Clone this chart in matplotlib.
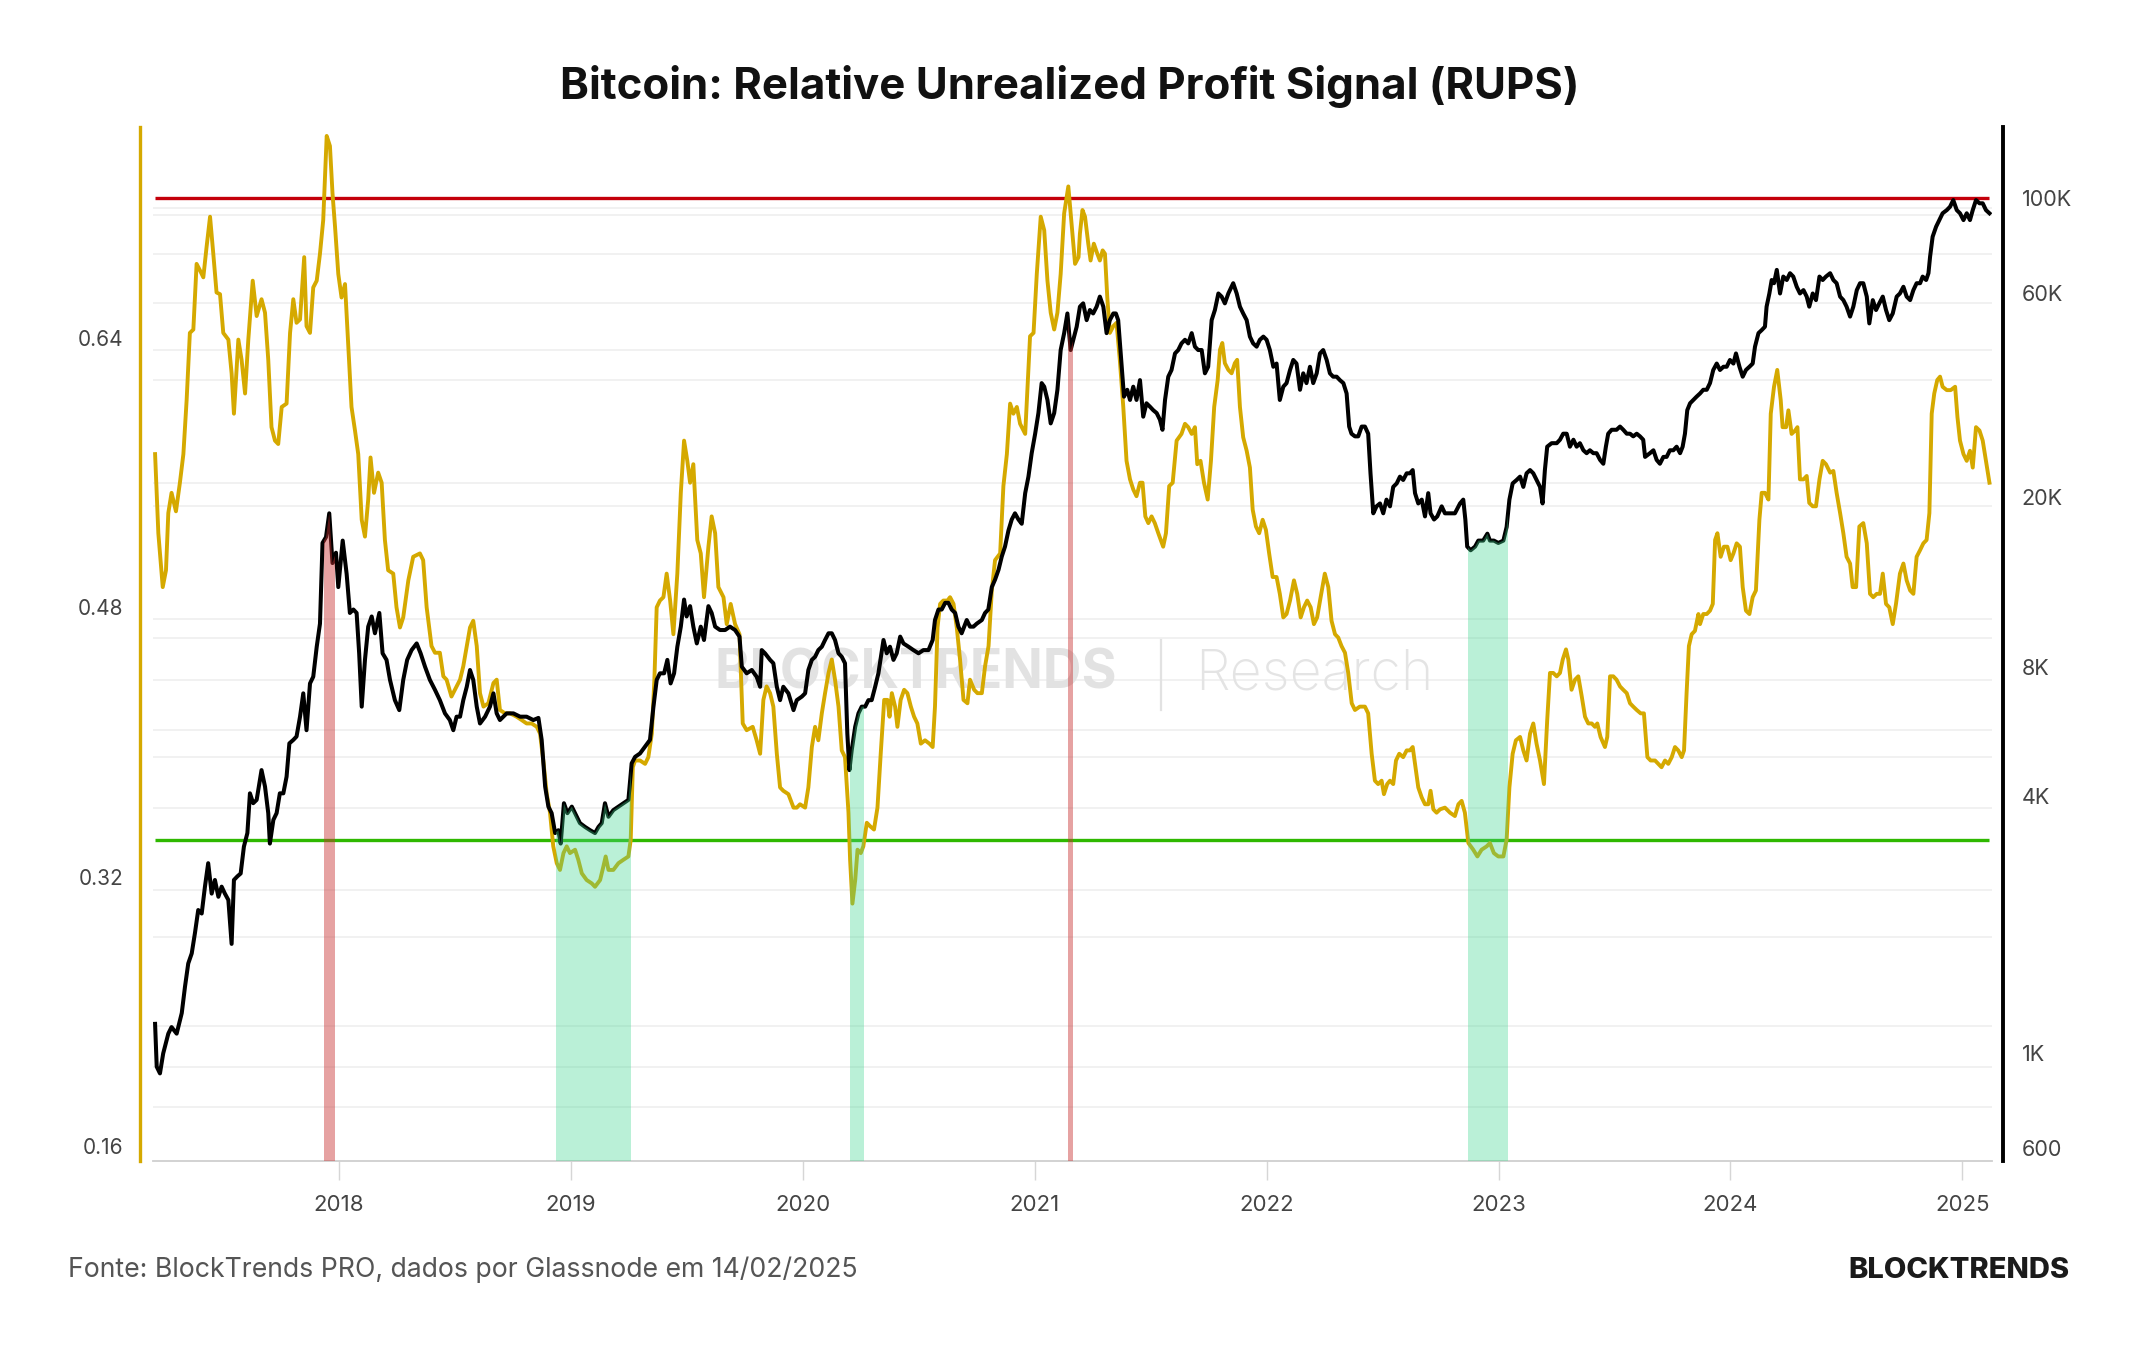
import numpy as np
import matplotlib
matplotlib.use("Agg")
import matplotlib.pyplot as plt
from matplotlib.path import Path
from matplotlib.lines import Line2D
from matplotlib.ticker import FixedLocator, FixedFormatter, NullLocator

plt.rcParams['font.family'] = ['Inter', 'DejaVu Sans']

# ---------------- data (decimal year, value) ----------------
rups_points = [
    (2017.207, 0.571), (2017.221, 0.524), (2017.240, 0.492), (2017.254, 0.502), (2017.264, 0.536),
    (2017.278, 0.548), (2017.297, 0.537), (2017.314, 0.554), (2017.329, 0.571), (2017.343, 0.603),
    (2017.357, 0.643), (2017.372, 0.645), (2017.386, 0.684), (2017.401, 0.680), (2017.415, 0.676),
    (2017.429, 0.694), (2017.444, 0.712), (2017.458, 0.690), (2017.472, 0.667), (2017.487, 0.666),
    (2017.501, 0.643), (2017.523, 0.639), (2017.537, 0.619), (2017.547, 0.595), (2017.566, 0.639),
    (2017.580, 0.627), (2017.595, 0.607), (2017.609, 0.639), (2017.628, 0.674), (2017.645, 0.653),
    (2017.666, 0.663), (2017.681, 0.655), (2017.695, 0.627), (2017.709, 0.587), (2017.724, 0.579),
    (2017.738, 0.577), (2017.753, 0.599), (2017.774, 0.601), (2017.789, 0.643), (2017.803, 0.663),
    (2017.817, 0.649), (2017.832, 0.651), (2017.850, 0.688), (2017.860, 0.647), (2017.875, 0.643),
    (2017.889, 0.670), (2017.904, 0.674), (2017.918, 0.690), (2017.932, 0.710), (2017.947, 0.760),
    (2017.961, 0.754), (2017.972, 0.726), (2017.983, 0.706), (2017.997, 0.678), (2018.011, 0.664),
    (2018.026, 0.672), (2018.040, 0.635), (2018.054, 0.599), (2018.069, 0.585), (2018.083, 0.571),
    (2018.098, 0.532), (2018.112, 0.522), (2018.126, 0.544), (2018.136, 0.569), (2018.151, 0.548),
    (2018.169, 0.560), (2018.184, 0.554), (2018.198, 0.520), (2018.212, 0.502), (2018.234, 0.500),
    (2018.248, 0.480), (2018.263, 0.468), (2018.277, 0.474), (2018.299, 0.496), (2018.320, 0.510),
    (2018.349, 0.512), (2018.363, 0.508), (2018.378, 0.480), (2018.399, 0.457), (2018.414, 0.453),
    (2018.435, 0.453), (2018.450, 0.439), (2018.464, 0.437), (2018.485, 0.427), (2018.507, 0.433),
    (2018.522, 0.437), (2018.536, 0.445), (2018.551, 0.457), (2018.565, 0.468), (2018.579, 0.472),
    (2018.594, 0.457), (2018.608, 0.429), (2018.623, 0.421), (2018.644, 0.423), (2018.666, 0.435),
    (2018.680, 0.437), (2018.694, 0.419), (2018.716, 0.417), (2018.738, 0.417), (2018.766, 0.415),
    (2018.788, 0.413), (2018.809, 0.411), (2018.831, 0.411), (2018.853, 0.409), (2018.867, 0.405),
    (2018.881, 0.389), (2018.896, 0.369), (2018.910, 0.358), (2018.924, 0.338), (2018.939, 0.328),
    (2018.953, 0.324), (2018.968, 0.334), (2018.982, 0.338), (2018.996, 0.334), (2019.018, 0.336),
    (2019.032, 0.330), (2019.047, 0.322), (2019.068, 0.318), (2019.090, 0.316), (2019.104, 0.314),
    (2019.126, 0.318), (2019.140, 0.326), (2019.150, 0.332), (2019.162, 0.324), (2019.183, 0.324),
    (2019.205, 0.328), (2019.226, 0.330), (2019.248, 0.332), (2019.258, 0.342), (2019.267, 0.385),
    (2019.277, 0.389), (2019.298, 0.389), (2019.320, 0.387), (2019.334, 0.391), (2019.349, 0.405),
    (2019.360, 0.437), (2019.370, 0.480), (2019.384, 0.484), (2019.399, 0.486), (2019.413, 0.500),
    (2019.428, 0.484), (2019.442, 0.464), (2019.459, 0.500), (2019.474, 0.548), (2019.488, 0.579),
    (2019.502, 0.567), (2019.514, 0.554), (2019.528, 0.565), (2019.545, 0.520), (2019.560, 0.512),
    (2019.574, 0.486), (2019.593, 0.516), (2019.607, 0.534), (2019.622, 0.524), (2019.636, 0.492),
    (2019.658, 0.486), (2019.672, 0.470), (2019.689, 0.482), (2019.708, 0.470), (2019.727, 0.464),
    (2019.741, 0.411), (2019.758, 0.407), (2019.784, 0.409), (2019.801, 0.401), (2019.816, 0.393),
    (2019.830, 0.425), (2019.844, 0.433),
    (2019.859, 0.429), (2019.873, 0.421), (2019.888, 0.393), (2019.902, 0.373), (2019.916, 0.371),
    (2019.938, 0.369), (2019.960, 0.361), (2019.974, 0.361), (2019.988, 0.363), (2020.010, 0.361),
    (2020.024, 0.373), (2020.039, 0.397), (2020.053, 0.409), (2020.067, 0.401), (2020.082, 0.417),
    (2020.096, 0.429), (2020.111, 0.441), (2020.125, 0.449), (2020.139, 0.437), (2020.154, 0.421),
    (2020.168, 0.395), (2020.182, 0.391), (2020.197, 0.358), (2020.204, 0.330), (2020.214, 0.304),
    (2020.226, 0.318), (2020.236, 0.336), (2020.250, 0.334), (2020.261, 0.338), (2020.276, 0.352),
    (2020.290, 0.350), (2020.307, 0.348), (2020.322, 0.361), (2020.336, 0.393), (2020.351, 0.425),
    (2020.365, 0.425), (2020.374, 0.415), (2020.384, 0.429), (2020.398, 0.421), (2020.408, 0.409),
    (2020.422, 0.425), (2020.437, 0.431), (2020.451, 0.429), (2020.466, 0.421), (2020.480, 0.415),
    (2020.494, 0.411), (2020.509, 0.399), (2020.527, 0.401), (2020.546, 0.399), (2020.560, 0.397),
    (2020.570, 0.421), (2020.581, 0.468), (2020.592, 0.482), (2020.606, 0.484), (2020.624, 0.484),
    (2020.635, 0.486), (2020.650, 0.482), (2020.664, 0.468), (2020.678, 0.449), (2020.693, 0.425),
    (2020.710, 0.423), (2020.721, 0.437), (2020.739, 0.431), (2020.753, 0.429), (2020.772, 0.429),
    (2020.786, 0.445), (2020.801, 0.457), (2020.815, 0.490), (2020.829, 0.508), (2020.851, 0.512),
    (2020.865, 0.552), (2020.880, 0.571), (2020.894, 0.601), (2020.908, 0.595), (2020.923, 0.599),
    (2020.937, 0.589), (2020.959, 0.583), (2020.969, 0.611), (2020.980, 0.641), (2020.995, 0.643),
    (2021.009, 0.678), (2021.026, 0.712), (2021.041, 0.704), (2021.055, 0.674), (2021.069, 0.655),
    (2021.084, 0.645), (2021.098, 0.655), (2021.112, 0.678), (2021.127, 0.714), (2021.145, 0.730),
    (2021.160, 0.706), (2021.174, 0.684), (2021.189, 0.688),
    (2021.195, 0.702), (2021.206, 0.716), (2021.217, 0.712), (2021.231, 0.696), (2021.241, 0.686),
    (2021.255, 0.696), (2021.270, 0.690), (2021.281, 0.686), (2021.293, 0.692), (2021.303, 0.690),
    (2021.313, 0.664), (2021.324, 0.643), (2021.339, 0.647), (2021.353, 0.649), (2021.367, 0.627),
    (2021.382, 0.599), (2021.396, 0.567), (2021.411, 0.556), (2021.425, 0.550), (2021.439, 0.546),
    (2021.454, 0.554), (2021.465, 0.554), (2021.477, 0.534), (2021.490, 0.530), (2021.504, 0.534),
    (2021.518, 0.530), (2021.533, 0.524), (2021.554, 0.516), (2021.566, 0.524), (2021.580, 0.552),
    (2021.595, 0.554), (2021.612, 0.579), (2021.633, 0.583), (2021.648, 0.589), (2021.662, 0.587),
    (2021.677, 0.583), (2021.691, 0.587), (2021.701, 0.565), (2021.715, 0.567), (2021.730, 0.554),
    (2021.746, 0.544), (2021.760, 0.567), (2021.774, 0.599), (2021.789, 0.615), (2021.799, 0.633),
    (2021.809, 0.637), (2021.820, 0.625), (2021.835, 0.621), (2021.849, 0.619), (2021.863, 0.625),
    (2021.873, 0.627), (2021.885, 0.599), (2021.899, 0.581), (2021.914, 0.573), (2021.928, 0.563),
    (2021.940, 0.538), (2021.954, 0.528), (2021.968, 0.524), (2021.983, 0.532), (2021.997, 0.526),
    (2022.011, 0.512), (2022.026, 0.498), (2022.043, 0.498), (2022.057, 0.488), (2022.072, 0.474),
    (2022.086, 0.476), (2022.101, 0.484), (2022.118, 0.496), (2022.132, 0.488), (2022.147, 0.474),
    (2022.161, 0.480), (2022.175, 0.484), (2022.190, 0.480), (2022.204, 0.470), (2022.218, 0.474),
    (2022.233, 0.486), (2022.251, 0.500), (2022.266, 0.492), (2022.280, 0.472), (2022.295, 0.464),
    (2022.309, 0.462), (2022.323, 0.457), (2022.338, 0.453), (2022.352, 0.441), (2022.367, 0.423),
    (2022.381, 0.419), (2022.402, 0.421), (2022.424, 0.421), (2022.438, 0.417), (2022.453, 0.393),
    (2022.467, 0.377), (2022.481, 0.375), (2022.496, 0.377), (2022.506, 0.369), (2022.520, 0.375),
    (2022.532, 0.377), (2022.546, 0.375), (2022.558, 0.389), (2022.572, 0.393), (2022.589, 0.391),
    (2022.604, 0.395), (2022.618, 0.395), (2022.630, 0.397), (2022.640, 0.387), (2022.654, 0.373),
    (2022.669, 0.367), (2022.683, 0.363), (2022.697, 0.363), (2022.707, 0.371), (2022.719, 0.360),
    (2022.733, 0.358), (2022.748, 0.360), (2022.769, 0.361), (2022.791, 0.358), (2022.812, 0.356),
    (2022.827, 0.363), (2022.841, 0.365), (2022.855, 0.358), (2022.870, 0.340), (2022.891, 0.336),
    (2022.909, 0.332), (2022.927, 0.336), (2022.949, 0.338), (2022.963, 0.340), (2022.980, 0.334),
    (2022.999, 0.332), (2023.021, 0.332), (2023.035, 0.342), (2023.047, 0.373), (2023.061, 0.393),
    (2023.075, 0.401), (2023.093, 0.403), (2023.107, 0.395), (2023.121, 0.389), (2023.136, 0.405),
    (2023.150, 0.411), (2023.164, 0.399), (2023.179, 0.389), (2023.196, 0.375), (2023.210, 0.413),
    (2023.222, 0.441), (2023.236, 0.441), (2023.251, 0.439), (2023.265, 0.441), (2023.277, 0.449),
    (2023.291, 0.455), (2023.301, 0.449), (2023.315, 0.431), (2023.330, 0.437), (2023.344, 0.439),
    (2023.359, 0.427), (2023.373, 0.415), (2023.387, 0.411), (2023.402, 0.411), (2023.416, 0.409),
    (2023.426, 0.411), (2023.440, 0.403), (2023.459, 0.397), (2023.469, 0.403), (2023.481, 0.439),
    (2023.495, 0.439), (2023.509, 0.437), (2023.524, 0.433), (2023.538, 0.431), (2023.553, 0.429),
    (2023.567, 0.423), (2023.581, 0.421), (2023.596, 0.419), (2023.613, 0.417), (2023.627, 0.417),
    (2023.642, 0.391), (2023.656, 0.389), (2023.675, 0.389), (2023.689, 0.387), (2023.703, 0.385),
    (2023.718, 0.389), (2023.732, 0.387), (2023.747, 0.391), (2023.761, 0.397), (2023.775, 0.395),
    (2023.790, 0.391), (2023.800, 0.395), (2023.811, 0.429), (2023.821, 0.457), (2023.833, 0.464),
    (2023.847, 0.466), (2023.862, 0.476),
    (2023.869, 0.470), (2023.883, 0.476), (2023.898, 0.476), (2023.912, 0.478), (2023.924, 0.482),
    (2023.934, 0.520), (2023.944, 0.524), (2023.958, 0.510), (2023.972, 0.516), (2023.987, 0.516),
    (2024.001, 0.508), (2024.013, 0.512), (2024.027, 0.518), (2024.041, 0.516), (2024.053, 0.492),
    (2024.067, 0.478), (2024.082, 0.476), (2024.096, 0.486), (2024.110, 0.490), (2024.125, 0.532),
    (2024.135, 0.548), (2024.149, 0.548), (2024.164, 0.544), (2024.174, 0.595), (2024.188, 0.611),
    (2024.202, 0.621), (2024.217, 0.603), (2024.225, 0.587), (2024.240, 0.587), (2024.250, 0.597),
    (2024.264, 0.583), (2024.279, 0.585), (2024.289, 0.587), (2024.300, 0.556), (2024.315, 0.556),
    (2024.329, 0.558), (2024.340, 0.542), (2024.355, 0.540), (2024.369, 0.540), (2024.384, 0.556),
    (2024.398, 0.567), (2024.412, 0.565), (2024.430, 0.560), (2024.444, 0.561), (2024.458, 0.548),
    (2024.473, 0.536), (2024.487, 0.524), (2024.501, 0.510), (2024.516, 0.506), (2024.527, 0.492),
    (2024.542, 0.492), (2024.556, 0.528), (2024.573, 0.530), (2024.588, 0.518), (2024.602, 0.488),
    (2024.616, 0.486), (2024.631, 0.488), (2024.645, 0.488), (2024.657, 0.500), (2024.671, 0.482),
    (2024.685, 0.480), (2024.700, 0.470), (2024.714, 0.482), (2024.731, 0.500), (2024.746, 0.506),
    (2024.760, 0.496), (2024.775, 0.490), (2024.789, 0.488), (2024.803, 0.510), (2024.818, 0.514),
    (2024.832, 0.518), (2024.846, 0.520), (2024.858, 0.536), (2024.868, 0.595), (2024.879, 0.607),
    (2024.892, 0.615), (2024.904, 0.617), (2024.915, 0.611), (2024.933, 0.609), (2024.950, 0.609),
    (2024.969, 0.611), (2024.979, 0.593), (2024.990, 0.579), (2025.005, 0.571), (2025.019, 0.567),
    (2025.033, 0.573), (2025.045, 0.563), (2025.059, 0.587), (2025.074, 0.585), (2025.088, 0.579),
    (2025.102, 0.567), (2025.117, 0.554),
]

price_points = [
    (2017.207, 1170), (2017.214, 929), (2017.228, 896), (2017.242, 998), (2017.264, 1110),
    (2017.278, 1150), (2017.300, 1110), (2017.322, 1240), (2017.336, 1430), (2017.350, 1620),
    (2017.365, 1710), (2017.379, 1910), (2017.393, 2160), (2017.408, 2120), (2017.422, 2450),
    (2017.436, 2780), (2017.451, 2360), (2017.465, 2540), (2017.480, 2320), (2017.494, 2450),
    (2017.508, 2360), (2017.523, 2280), (2017.537, 1800), (2017.547, 2540), (2017.562, 2590),
    (2017.576, 2630), (2017.590, 3040), (2017.605, 3270), (2017.616, 4050), (2017.630, 3840),
    (2017.645, 3910), (2017.666, 4590), (2017.681, 4200), (2017.695, 3640), (2017.702, 3090),
    (2017.717, 3510), (2017.731, 3640), (2017.745, 4050), (2017.760, 4050), (2017.774, 4430),
    (2017.786, 5300), (2017.803, 5400), (2017.817, 5500), (2017.832, 6120), (2017.846, 6940),
    (2017.860, 5690), (2017.875, 7320), (2017.889, 7590), (2017.904, 8920), (2017.918, 10100),
    (2017.929, 15600), (2017.944, 16100), (2017.958, 18300), (2017.972, 14000), (2017.987, 14800),
    (2017.997, 12300), (2018.016, 15800), (2018.033, 13200), (2018.047, 10700), (2018.062, 10900),
    (2018.076, 10700), (2018.087, 8610), (2018.098, 6460), (2018.112, 8310), (2018.126, 9940),
    (2018.141, 10500), (2018.155, 9590), (2018.174, 10700), (2018.188, 8610), (2018.205, 8310),
    (2018.220, 7460), (2018.241, 6690), (2018.260, 6340), (2018.277, 7460), (2018.294, 8310),
    (2018.313, 8760), (2018.335, 9080), (2018.352, 8610), (2018.371, 8010), (2018.392, 7460),
    (2018.414, 7070), (2018.435, 6690), (2018.457, 6230), (2018.478, 6010), (2018.493, 5690),
    (2018.507, 6120),
    (2018.522, 6120), (2018.536, 6690), (2018.551, 7190), (2018.565, 7870), (2018.579, 7460),
    (2018.594, 6460), (2018.608, 5900), (2018.630, 6120), (2018.651, 6460), (2018.666, 6940),
    (2018.680, 6230), (2018.694, 6010), (2018.723, 6230), (2018.752, 6230), (2018.781, 6120),
    (2018.809, 6120), (2018.838, 6010), (2018.860, 6080), (2018.874, 5400), (2018.889, 4200),
    (2018.903, 3770), (2018.917, 3640), (2018.932, 3270), (2018.946, 3320), (2018.956, 3090),
    (2018.970, 3840), (2018.985, 3640), (2019.004, 3770), (2019.018, 3640), (2019.039, 3450),
    (2019.061, 3380), (2019.083, 3320), (2019.104, 3270), (2019.119, 3380), (2019.133, 3450),
    (2019.147, 3840), (2019.162, 3570), (2019.183, 3700), (2019.205, 3770), (2019.226, 3840),
    (2019.248, 3910), (2019.262, 4760), (2019.277, 4930), (2019.298, 5020), (2019.320, 5210),
    (2019.341, 5400), (2019.356, 6460), (2019.370, 7460), (2019.384, 7730), (2019.402, 7730),
    (2019.416, 8310), (2019.430, 7320), (2019.445, 7730), (2019.459, 8920), (2019.474, 9940),
    (2019.488, 11500), (2019.499, 10500), (2019.514, 11100), (2019.528, 9940), (2019.543, 9080),
    (2019.560, 9940), (2019.574, 9250), (2019.593, 11100), (2019.607, 10700), (2019.622, 9940),
    (2019.643, 9760), (2019.665, 9760), (2019.686, 9940), (2019.708, 9760), (2019.727, 9420),
    (2019.737, 8010), (2019.758, 7730), (2019.780, 7870), (2019.801, 7590), (2019.816, 7190),
    (2019.823, 8760), (2019.837, 8610), (2019.859, 8310),
    (2019.873, 8160), (2019.888, 7190), (2019.902, 6690), (2019.916, 7190), (2019.938, 6940),
    (2019.960, 6340), (2019.974, 6690), (2019.996, 6820), (2020.010, 6940), (2020.024, 7870),
    (2020.039, 8310), (2020.053, 8450), (2020.067, 8760), (2020.082, 8920), (2020.096, 9250),
    (2020.111, 9590), (2020.125, 9590), (2020.139, 9250), (2020.154, 8610), (2020.168, 8450),
    (2020.182, 8160), (2020.192, 5590), (2020.201, 4590), (2020.211, 5110), (2020.226, 5800),
    (2020.240, 6230), (2020.254, 6460), (2020.269, 6460), (2020.283, 6690), (2020.297, 6690),
    (2020.312, 7190), (2020.326, 7730), (2020.348, 9250), (2020.362, 8610), (2020.376, 8920),
    (2020.391, 8310), (2020.405, 8610), (2020.420, 9420), (2020.434, 9080), (2020.456, 8920),
    (2020.477, 8760), (2020.499, 8610), (2020.520, 8760), (2020.542, 8760), (2020.560, 9250),
    (2020.570, 10300), (2020.585, 10900), (2020.599, 10900), (2020.614, 11300), (2020.628, 11300),
    (2020.642, 10900), (2020.657, 10700), (2020.671, 9940), (2020.685, 9590), (2020.707, 10300),
    (2020.721, 9940), (2020.736, 9940), (2020.750, 10100), (2020.772, 10300), (2020.786, 10700),
    (2020.800, 10900), (2020.815, 12300), (2020.829, 12800), (2020.844, 13500), (2020.858, 14500),
    (2020.872, 15300), (2020.887, 16700), (2020.901, 17700), (2020.915, 18300), (2020.930, 17700),
    (2020.944, 17300), (2020.959, 20400), (2020.973, 22300), (2020.987, 25300), (2021.002, 28100),
    (2021.016, 31400), (2021.030, 36900), (2021.041, 36200), (2021.055, 33700), (2021.069, 29700),
    (2021.084, 31400), (2021.098, 35600), (2021.112, 44100), (2021.127, 48300), (2021.141, 53700),
    (2021.155, 44100), (2021.170, 47400), (2021.181, 50000),
    (2021.195, 55700), (2021.209, 56700), (2021.224, 51800), (2021.238, 54700), (2021.252, 53700),
    (2021.267, 55700), (2021.281, 58800), (2021.296, 55700), (2021.310, 48300), (2021.324, 51800),
    (2021.339, 53700), (2021.350, 53700), (2021.360, 51800), (2021.375, 40300), (2021.385, 34300),
    (2021.399, 35600), (2021.411, 33700), (2021.425, 36200), (2021.439, 33700), (2021.454, 37500),
    (2021.468, 30800), (2021.482, 33100), (2021.497, 32500), (2021.511, 31900), (2021.526, 31400),
    (2021.540, 30300), (2021.551, 28700), (2021.562, 33700), (2021.576, 38200), (2021.590, 39600),
    (2021.605, 43300), (2021.619, 44100), (2021.633, 45700), (2021.648, 46600), (2021.662, 45700),
    (2021.677, 48300), (2021.691, 44900), (2021.705, 44100), (2021.720, 44100), (2021.734, 38900),
    (2021.748, 40300), (2021.763, 51800), (2021.777, 54700), (2021.792, 59800), (2021.806, 58800),
    (2021.820, 56700), (2021.835, 59800), (2021.856, 63200), (2021.871, 59800), (2021.885, 55700),
    (2021.899, 53700), (2021.914, 51800), (2021.928, 47400), (2021.942, 45700), (2021.957, 44900),
    (2021.971, 46600), (2021.986, 47400), (2022.000, 46600), (2022.014, 44100), (2022.029, 40300),
    (2022.043, 41000), (2022.057, 33700), (2022.072, 36200), (2022.086, 36900), (2022.101, 39600),
    (2022.115, 41800), (2022.129, 41000), (2022.144, 35600), (2022.158, 38900), (2022.172, 36900),
    (2022.187, 40300), (2022.201, 36900), (2022.216, 38900), (2022.230, 43300), (2022.244, 44100),
    (2022.259, 41800), (2022.273, 38900), (2022.287, 38200), (2022.302, 38200), (2022.316, 37500),
    (2022.331, 36900), (2022.345, 34900), (2022.356, 29200), (2022.366, 28100), (2022.381, 27700),
    (2022.395, 27700), (2022.410, 29200), (2022.424, 29200), (2022.438, 28100), (2022.448, 22700),
    (2022.460, 18300), (2022.474, 19000), (2022.489, 19300), (2022.503, 18300), (2022.517, 19700),
    (2022.532, 19000), (2022.546, 21100), (2022.561, 21500), (2022.575, 22300), (2022.589, 21900),
    (2022.604, 22700), (2022.618, 22700), (2022.630, 23100), (2022.640, 20400), (2022.654, 19300),
    (2022.669, 19700), (2022.683, 18000), (2022.697, 20400), (2022.707, 18300), (2022.722, 17700),
    (2022.736, 18000), (2022.755, 19000), (2022.769, 18300), (2022.791, 18300), (2022.812, 18300),
    (2022.834, 19300), (2022.848, 19700), (2022.857, 17700), (2022.865, 15300), (2022.880, 15000),
    (2022.899, 15300), (2022.913, 15800), (2022.934, 15800), (2022.952, 16400), (2022.963, 15800),
    (2022.980, 15800), (2022.999, 15600), (2023.021, 15800), (2023.035, 17000), (2023.047, 19700),
    (2023.061, 21500), (2023.078, 21900), (2023.093, 22300), (2023.107, 21100), (2023.121, 22700),
    (2023.136, 23100), (2023.150, 22700), (2023.164, 21900), (2023.179, 21100), (2023.190, 19300),
    (2023.200, 23100), (2023.210, 26200), (2023.229, 26700), (2023.251, 26700), (2023.265, 27200),
    (2023.279, 28100), (2023.294, 28100), (2023.308, 26200), (2023.323, 27200), (2023.337, 26200),
    (2023.351, 26700), (2023.366, 25700), (2023.380, 25300), (2023.394, 25700), (2023.409, 25300),
    (2023.423, 25300), (2023.438, 24400), (2023.452, 23900), (2023.463, 26200), (2023.473, 28100),
    (2023.488, 28700), (2023.509, 28700), (2023.524, 29200), (2023.538, 28700), (2023.553, 28100),
    (2023.567, 28100), (2023.581, 27700), (2023.596, 28100), (2023.610, 27700), (2023.624, 27200),
    (2023.632, 24800), (2023.653, 25300), (2023.668, 25700), (2023.682, 24400), (2023.696, 23900),
    (2023.711, 24800), (2023.725, 24800), (2023.739, 25700), (2023.754, 25700), (2023.768, 26200),
    (2023.783, 25300), (2023.794, 26200), (2023.804, 28100), (2023.814, 31900), (2023.826, 33100),
    (2023.840, 33700), (2023.854, 34300),
    (2023.869, 34900), (2023.883, 35600), (2023.898, 35600), (2023.912, 36900), (2023.926, 39600),
    (2023.941, 41000), (2023.955, 39600), (2023.970, 40300), (2023.984, 40300), (2023.998, 41800),
    (2024.013, 41000), (2024.024, 43300), (2024.039, 40300), (2024.053, 38200), (2024.067, 39600),
    (2024.082, 40300), (2024.096, 41000), (2024.106, 44900), (2024.121, 48300), (2024.135, 49100),
    (2024.149, 50000), (2024.156, 55700), (2024.168, 59800), (2024.178, 64300), (2024.188, 63200),
    (2024.200, 67900), (2024.214, 59800), (2024.228, 65500), (2024.243, 64300), (2024.257, 66700),
    (2024.271, 65500), (2024.286, 62000), (2024.300, 59800), (2024.315, 60900), (2024.329, 58800),
    (2024.340, 55700), (2024.355, 59800), (2024.369, 57700), (2024.384, 65500), (2024.398, 64300),
    (2024.412, 65500), (2024.430, 66700), (2024.444, 64300), (2024.458, 63200), (2024.473, 58800),
    (2024.487, 57700), (2024.501, 55700), (2024.516, 52800), (2024.530, 55700), (2024.545, 60900),
    (2024.559, 63200), (2024.573, 63200), (2024.588, 58800), (2024.599, 50900), (2024.614, 57700),
    (2024.628, 54700), (2024.642, 56700), (2024.657, 58800), (2024.671, 54700), (2024.685, 51800),
    (2024.700, 53700), (2024.717, 58800), (2024.731, 59800), (2024.746, 62000), (2024.760, 58800),
    (2024.775, 57700), (2024.789, 60900), (2024.803, 63200), (2024.818, 63200), (2024.829, 65500),
    (2024.844, 64300), (2024.854, 66700), (2024.861, 72900), (2024.872, 81200), (2024.887, 85700),
    (2024.901, 88800), (2024.915, 92100), (2024.933, 93700), (2024.947, 95400), (2024.961, 98900),
    (2024.976, 93700), (2024.990, 92100), (2025.005, 88800), (2025.019, 92100), (2025.033, 88800),
    (2025.045, 93700), (2025.059, 98900), (2025.074, 97200), (2025.088, 97200), (2025.102, 93700),
    (2025.117, 92100),
]

sell_threshold = 0.723
buy_threshold = 0.342
sell_zones = [(2017.934, 2017.983), (2021.142, 2021.164)]
buy_zones = [(2018.934, 2019.258), (2020.204, 2020.266), (2022.867, 2023.042)]

year_ticks = [2018, 2019, 2020, 2021, 2022, 2023, 2024, 2025]
year_labels = [str(y) for y in year_ticks]
rups_ticks = [0.16, 0.32, 0.48, 0.64]
rups_labels = ["0.16", "0.32", "0.48", "0.64"]
price_ticks = [600, 1000, 4000, 8000, 20000, 60000, 100000]
price_labels = ["600", "1K", "4K", "8K", "20K", "60K", "100K"]
grid_levels = [0.717, 0.713, 0.690, 0.661, 0.633, 0.615, 0.554, 0.540, 0.473, 0.462,
               0.437, 0.407, 0.391, 0.361, 0.312, 0.284, 0.231, 0.207, 0.183]

title = "Bitcoin: Relative Unrealized Profit Signal (RUPS)"
footer = "Fonte: BlockTrends PRO, dados por Glassnode em 14/02/2025"
brand = "BLOCKTRENDS"

rups_year, rups_value = map(np.array, zip(*rups_points))
price_year, price_value = map(np.array, zip(*price_points))

GOLD = "#d5a900"
W, H = 2144, 1350
fig = plt.figure(figsize=(W / 100, H / 100), dpi=100)
fig.patch.set_facecolor("white")

ax = fig.add_axes([153 / W, 1 - 1161 / H, (1992 - 153) / W, (1161 - 127) / H])
ax.set_facecolor("none")
ax2 = ax.twinx()

ax.set_xlim(2017.198, 2025.128)
ax.set_ylim(0.1511, 0.7653)
ax2.set_yscale("log")
ax2.set_ylim(559, 146600)

# grid
for g in grid_levels:
    ax.axhline(g, color="#efefef", lw=1.2, zorder=0.3)

# watermark
ax.text(916 / W, 1 - 674 / H, "BLOCKTRENDS", transform=fig.transFigure, ha="center", va="center",
        fontsize=38.5, fontweight="bold", color="#e2e2e2", zorder=0.6)
ax.text(1195 / W, 1 - 674 / H, "Research", transform=fig.transFigure, ha="left", va="center",
        fontsize=40, fontweight="light", color="#e4e4e4", zorder=0.6)
ax.add_line(Line2D([1161 / W, 1161 / W], [1 - 640 / H, 1 - 710 / H], transform=fig.transFigure,
                   color="#e2e2e2", lw=1.6, zorder=0.6))

# thresholds
ax.hlines(sell_threshold, rups_year[0], rups_year[-1], color="#c4000b", lw=2.4, zorder=1.5)
ax.hlines(buy_threshold, rups_year[0], rups_year[-1], color="#2fb800", lw=2.4, zorder=1.5)

# RUPS line
ax.plot(rups_year, rups_value, color=GOLD, lw=2.8, zorder=2, solid_joinstyle="round")

# price line
ax2.plot(price_year, price_value, color="black", lw=2.9, zorder=2, solid_joinstyle="round")

# signal bands clipped under the price curve
verts = [(price_year[0], 1.0)] + list(zip(price_year, price_value)) + [(price_year[-1], 1.0), (price_year[0], 1.0)]
codes = [Path.MOVETO] + [Path.LINETO] * (len(verts) - 2) + [Path.CLOSEPOLY]
clip = Path(verts, codes)
for x0, x1 in sell_zones:
    sp = ax2.axvspan(x0, x1, facecolor="#c83232", alpha=0.45, lw=0, zorder=3)
    sp.set_clip_path(clip, ax2.transData)
for x0, x1 in buy_zones:
    sp = ax2.axvspan(x0, x1, facecolor="#40d690", alpha=0.36, lw=0, zorder=3)
    sp.set_clip_path(clip, ax2.transData)

# spines
for s in ("top", "right"):
    ax.spines[s].set_visible(False)
for s in ("top", "left", "bottom"):
    ax2.spines[s].set_visible(False)
ax.spines["left"].set_position(("outward", 9.4))
ax.spines["left"].set_color(GOLD)
ax.spines["left"].set_linewidth(2.4)
ax.spines["bottom"].set_color("#cfcfcf")
ax.spines["bottom"].set_linewidth(1.3)
ax2.spines["right"].set_position(("outward", 7.9))
ax2.spines["right"].set_color("black")
ax2.spines["right"].set_linewidth(2.8)

# ticks
ax.set_xticks(year_ticks)
ax.set_xticklabels(year_labels)
ax.tick_params(axis="x", direction="out", length=13.5, width=1.0, color="#d6d6d6",
               pad=11, labelsize=16, labelcolor="#444444")
ax.set_yticks(rups_ticks)
ax.set_yticklabels(rups_labels)
ax.tick_params(axis="y", length=0, pad=12, labelsize=15, labelcolor="#444444")
ax2.yaxis.set_major_locator(FixedLocator(price_ticks))
ax2.yaxis.set_major_formatter(FixedFormatter(price_labels))
ax2.yaxis.set_minor_locator(NullLocator())
ax2.tick_params(axis="y", length=0, pad=13.5, labelsize=15.5, labelcolor="#444444")

# texts
fig.text(1070 / W, 1 - 86 / H, title, ha="center", va="center", fontsize=31.5,
         fontweight="bold", color="#111111")
fig.text(68 / W, 1 - 1270 / H, footer, ha="left", va="center", fontsize=19.2, color="#555555")
fig.text(2069 / W, 1 - 1270 / H, brand, ha="right", va="center", fontsize=21,
         fontweight="heavy", color="#1b1b1b")

fig.savefig("out.png", dpi=100)
